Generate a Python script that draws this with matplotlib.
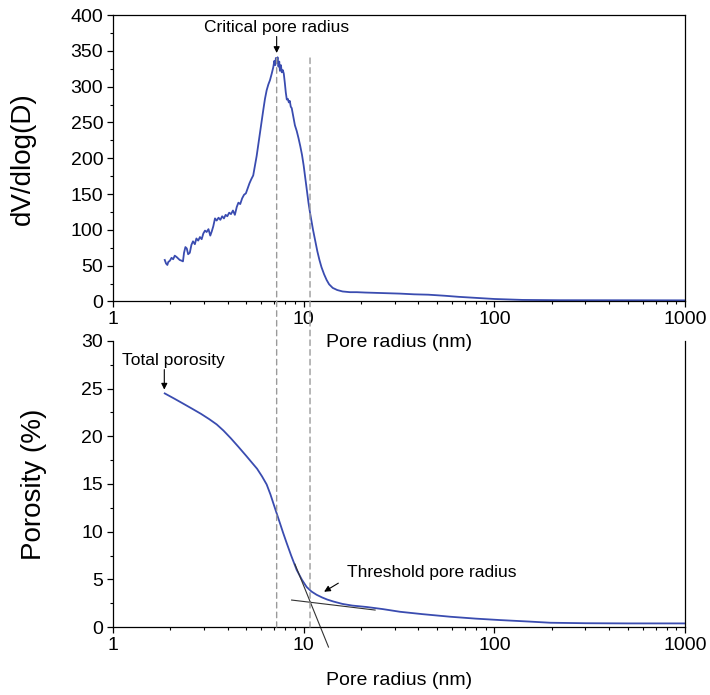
import matplotlib
matplotlib.use("Agg")
import matplotlib.pyplot as plt
from matplotlib.patches import ConnectionPatch
from matplotlib.ticker import LogLocator, MultipleLocator, FixedFormatter, FixedLocator

plt.rcParams['font.family'] = ['Liberation Sans', 'DejaVu Sans']

# pore size distribution (top panel)
r_top = [1.87, 1.90, 1.93, 1.95, 1.99, 2.03, 2.07, 2.11, 2.16, 2.20, 2.24, 2.29, 2.33, 2.36,
         2.40, 2.44, 2.48, 2.53, 2.58, 2.63, 2.69, 2.74, 2.80, 2.86, 2.92, 2.98, 3.04, 3.10,
         3.17, 3.24, 3.30, 3.36, 3.43, 3.50, 3.58, 3.66, 3.74, 3.82, 3.90, 3.98, 4.07, 4.16,
         4.26, 4.36, 4.46, 4.55, 4.65, 4.76, 4.87, 4.98, 5.09, 5.20, 5.32, 5.44, 5.56, 5.67,
         5.79, 5.90, 6.02, 6.14, 6.27, 6.40, 6.53, 6.66, 6.80, 6.93, 7.02, 7.10, 7.15, 7.22,
         7.30, 7.38, 7.45, 7.51, 7.60, 7.68, 7.78, 7.87, 7.97, 8.06, 8.16, 8.26, 8.36, 8.46,
         8.56, 8.66, 8.80, 9.00, 9.20, 9.40, 9.60, 9.80, 10.0, 10.2, 10.4, 10.6, 10.8, 11.0,
         11.2, 11.5, 11.8, 12.1, 12.4, 12.8, 13.2, 13.6, 14.2, 15.0, 16.0, 17.5, 19.0, 21.0,
         24.0, 28.0, 32.0, 38.0, 45.0, 55.0, 65.0, 75.0, 85.0, 100, 120, 140, 170, 220, 300,
         400, 550, 750, 1000]
dv_top = [58, 53, 51, 55, 57, 61, 59, 64, 62, 60, 58, 57, 56, 68,
          76, 74, 66, 68, 79, 84, 80, 88, 85, 90, 87, 95, 99, 97,
          101, 92, 98, 105, 116, 113, 117, 114, 119, 116, 121, 119, 124, 122,
          127, 121, 132, 138, 136, 144, 149, 151, 158, 165, 171, 176, 190, 203,
          220, 236, 252, 267, 283, 295, 303, 309, 318, 327, 336, 330, 340, 333,
          341, 328, 335, 322, 330, 320, 323, 318, 305, 292, 282, 283, 278, 280,
          272, 270, 260, 246, 238, 228, 217, 205, 190, 172, 155, 138, 124, 112,
          100, 85, 70, 58, 48, 38, 30, 24, 19, 16, 14, 13, 13, 12.5,
          12, 11.5, 11, 10, 9.5, 8, 6.5, 5.5, 4.5, 3.5, 2.8, 2.2, 2, 1.8, 1.8,
          1.7, 1.7, 1.6, 1.6]

# cumulative porosity (bottom panel)
r_bot = [1.87, 2.1, 2.35, 2.6, 2.9, 3.2, 3.5, 3.8, 4.15, 4.55, 5.0, 5.35, 5.7, 6.05, 6.4,
         6.7, 6.93, 7.2, 7.51, 7.8, 8.15, 8.6, 9.19, 9.8, 10.37, 11.0, 11.7, 12.5, 13.3, 14.3,
         16.0, 18.0, 21.4, 26.0, 32.0, 42.0, 58.6, 80.0, 107, 150, 196, 300, 500, 1000]
por_bot = [24.5, 23.95, 23.4, 22.9, 22.35, 21.8, 21.25, 20.6, 19.8, 18.9, 17.95, 17.25, 16.6,
           15.8, 14.95, 13.9, 13.0, 12.0, 10.9, 9.9, 8.8, 7.5, 6.0, 4.95, 4.2, 3.72, 3.38,
           3.1, 2.88, 2.68, 2.42, 2.25, 2.1, 1.88, 1.6, 1.35, 1.08, 0.88, 0.73, 0.58, 0.45,
           0.40, 0.38, 0.38]

# tangent lines for threshold radius
tan_steep_x = [9.0, 13.5]
tan_steep_y = [6.6, -2.1]
tan_flat_x = [8.65, 23.7]
tan_flat_y = [2.83, 1.78]

critical_r = 7.22
threshold_r = 10.8

xticks = [1, 10, 100, 1000]
xtick_labels = ['1', '10', '100', '1000']

blue = '#3a4cb0'
fig = plt.figure(figsize=(7.1, 6.95), dpi=100)
ax1 = fig.add_axes([0.159, 0.5662, 0.806, 0.4122])
ax2 = fig.add_axes([0.159, 0.0978, 0.806, 0.4116])
ax2.patch.set_visible(False)

ax1.plot(r_top, dv_top, color=blue, lw=1.3)
ax2.plot(r_bot, por_bot, color=blue, lw=1.3)
ax2.plot(tan_steep_x, tan_steep_y, color='#333333', lw=0.8, clip_on=False)
ax2.plot(tan_flat_x, tan_flat_y, color='#333333', lw=0.8, clip_on=False)

for ax in (ax1, ax2):
    ax.set_xscale('log')
    ax.set_xlim(1, 1000)
    ax.xaxis.set_major_locator(FixedLocator(xticks))
    ax.xaxis.set_major_formatter(FixedFormatter(xtick_labels))
    ax.xaxis.set_minor_locator(LogLocator(base=10, subs=range(2, 10)))
    ax.xaxis.set_minor_formatter(FixedFormatter([]))
    ax.tick_params(which='major', direction='out', length=4, width=0.9, labelsize=14, pad=3)
    ax.tick_params(which='minor', direction='out', length=2.3, width=0.8)
    ax.tick_params(right=False, top=False, which='both')
    for s in ax.spines.values():
        s.set_linewidth(0.9)

ax1.set_ylim(0, 400)
ax1.yaxis.set_major_locator(MultipleLocator(50))
ax1.yaxis.set_minor_locator(MultipleLocator(25))
ax2.set_ylim(0, 30)
ax2.yaxis.set_major_locator(MultipleLocator(5))
ax2.yaxis.set_minor_locator(MultipleLocator(2.5))
ax2.spines['top'].set_visible(False)

ax1.set_xlabel('Pore radius (nm)', fontsize=14, labelpad=4)
ax2.set_xlabel('Pore radius (nm)', fontsize=14, labelpad=13)
ax1.set_ylabel('dV/dlog(D)', fontsize=20)
ax2.set_ylabel('Porosity (%)', fontsize=20)
ax1.yaxis.set_label_coords(-0.135, 0.5)
ax2.yaxis.set_label_coords(-0.115, 0.5)

# dashed guide lines through both panels
for xv in (critical_r, threshold_r):
    con = ConnectionPatch(xyA=(xv, 340), coordsA=ax1.transData, xyB=(xv, 0), coordsB=ax2.transData,
                          color='#9a9a9a', lw=1.0, ls=(0, (4, 3)))
    fig.add_artist(con)

arrow = dict(arrowstyle='-|>', color='black', lw=0.8, mutation_scale=9, shrinkA=0, shrinkB=0)
ax1.text(critical_r, 376, 'Critical pore radius', ha='center', va='baseline', fontsize=12.5)
ax1.annotate('', xy=(critical_r, 347), xytext=(critical_r, 370), arrowprops=arrow)
ax2.text(1.11, 27.5, 'Total porosity', ha='left', va='baseline', fontsize=12.5)
ax2.annotate('', xy=(1.86, 24.9), xytext=(1.86, 27.0), arrowprops=arrow)
ax2.text(16.8, 5.2, 'Threshold pore radius', ha='left', va='baseline', fontsize=12.5)
ax2.annotate('', xy=(12.8, 3.7), xytext=(15.2, 4.6), arrowprops=arrow)

fig.savefig('out.png', dpi=100)
